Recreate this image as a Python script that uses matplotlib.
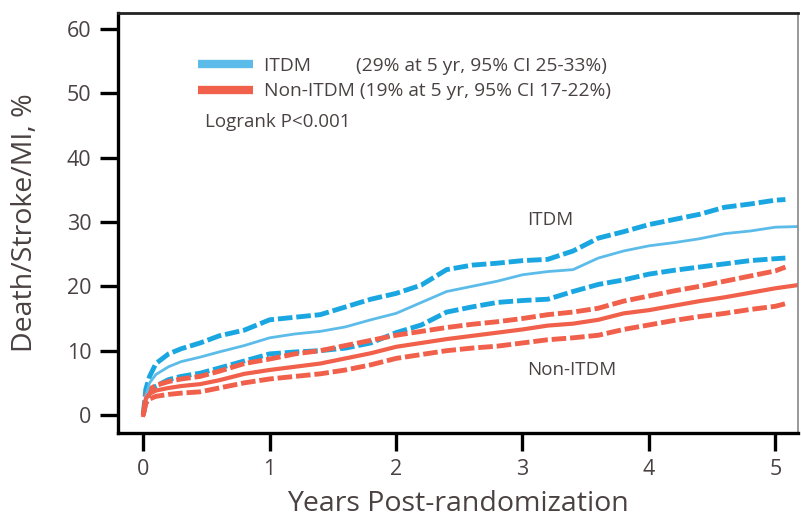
import matplotlib
matplotlib.use("Agg")
from matplotlib import pyplot as plt

plt.rcParams['font.family'] = ['Open Sans', 'DejaVu Sans']

# years of follow-up
t = [0, 0.02, 0.05, 0.1, 0.2, 0.3, 0.45, 0.6, 0.8, 1.0, 1.2, 1.4, 1.6, 1.8, 2.0,
     2.2, 2.4, 2.6, 2.8, 3.0, 3.2, 3.4, 3.6, 3.8, 4.0, 4.2, 4.4, 4.6, 4.8, 5.0, 5.18]
# confidence bands stop a little before the last estimate point
t_ci = t[:-1] + [5.08]

# cumulative death/stroke/MI, %
itdm = [0, 3, 5, 6.3, 7.5, 8.3, 9, 9.8, 10.8, 12, 12.6, 13, 13.7, 14.8, 15.8,
        17.5, 19.2, 20, 20.8, 21.8, 22.3, 22.6, 24.4, 25.5, 26.3, 26.8, 27.4, 28.2, 28.6, 29.2, 29.3]
itdm_hi = [0, 4, 6, 8, 9.5, 10.3, 11.2, 12.3, 13.2, 14.8, 15.2, 15.6, 16.8, 18, 18.9,
           20.2, 22.6, 23.3, 23.6, 24, 24.2, 25.5, 27.5, 28.5, 29.6, 30.4, 31.2, 32.3, 32.8, 33.4, 33.5]
itdm_lo = [0, 2, 3.5, 4.5, 5.5, 6, 6.5, 7.3, 8.4, 9.5, 9.8, 10, 10.4, 11.2, 12.8,
           14, 16, 16.8, 17.5, 17.8, 18, 19.2, 20.3, 21, 21.9, 22.5, 23, 23.5, 24, 24.3, 24.4]

non = [0, 2.5, 3.3, 3.8, 4.2, 4.5, 4.8, 5.4, 6.4, 7.0, 7.5, 8.0, 8.8, 9.6, 10.6,
       11.2, 11.8, 12.3, 12.8, 13.3, 13.9, 14.2, 14.8, 15.8, 16.3, 17, 17.7, 18.3, 19, 19.7, 20.2]
non_hi = [0, 3, 4, 4.6, 5.2, 5.6, 6.0, 6.8, 8, 8.7, 9.5, 10.0, 10.8, 11.6, 12.4,
          13.0, 13.6, 14.1, 14.5, 15.0, 15.6, 16.0, 16.6, 17.7, 18.5, 19.3, 20, 20.8, 21.6, 22.4, 23]
non_lo = [0, 1.8, 2.5, 2.9, 3.2, 3.4, 3.6, 4.2, 5.0, 5.6, 6.0, 6.4, 7.0, 7.8, 8.8,
          9.4, 10, 10.4, 10.7, 11.2, 11.7, 12.0, 12.4, 13.3, 14.0, 14.7, 15.3, 15.8, 16.4, 16.9, 17.3]

blue = '#1aa7e1'
blue_lt = '#5cbce9'
red = '#f0604a'
txt = '#4a4242'

fig = plt.figure(figsize=(8.01, 5.2), dpi=100)
ax = fig.add_axes([0.1473, 0.1673, 0.8490, 0.8077])

dash = (0, (3, 0.8))
ax.plot(t_ci, itdm_hi, color=blue, lw=3.5, ls=dash)
ax.plot(t_ci, itdm_lo, color=blue, lw=3.5, ls=dash)
ax.plot(t_ci, non_hi, color=red, lw=3.5, ls=dash)
ax.plot(t_ci, non_lo, color=red, lw=3.5, ls=dash)
l1, = ax.plot(t, itdm, color=blue_lt, lw=2)
l2, = ax.plot(t, non, color=red, lw=3)

ax.set_xlim(-0.2, 5.18)
ax.set_ylim(-2.8, 62.5)
ax.set_xticks([0, 1, 2, 3, 4, 5])
ax.set_yticks([0, 10, 20, 30, 40, 50, 60])

for s in ['left', 'bottom']:
    ax.spines[s].set_linewidth(2.4)
    ax.spines[s].set_color('black')
ax.spines['top'].set_linewidth(2)
ax.spines['top'].set_color('#222222')
ax.spines['right'].set_linewidth(1.2)
ax.spines['right'].set_color('#888888')

ax.tick_params(axis='both', length=13, width=2.4, color='black',
               labelsize=15.5, labelcolor=txt, pad=6)

ax.set_xlabel('Years Post-randomization', fontsize=20.5, color=txt, labelpad=7)
ax.set_ylabel('Death/Stroke/MI, %', fontsize=20.5, color=txt, labelpad=20)

# legend
leg = ax.legend([l1, l2],
                ['ITDM         (29% at 5 yr, 95% CI 25-33%)',
                 'Non-ITDM (19% at 5 yr, 95% CI 17-22%)'],
                loc='upper left', bbox_to_anchor=(0.1176, 0.895), frameon=False,
                fontsize=13.8, handlelength=2.85, handletextpad=0.6,
                labelspacing=0.38, borderpad=0, borderaxespad=0)
for h in leg.legend_handles:
    h.set_linewidth(6)
    h.set_solid_capstyle('butt')
for tx in leg.get_texts():
    tx.set_color(txt)

ax.text(0.49, 45.6, 'Logrank P<0.001', fontsize=13.5, color=txt, va='center')
ax.text(3.22, 30.3, 'ITDM', fontsize=13.5, color=txt, ha='center', va='center')
ax.text(3.39, 7.0, 'Non-ITDM', fontsize=13.5, color=txt, ha='center', va='center')

fig.savefig('out.png', dpi=100)
